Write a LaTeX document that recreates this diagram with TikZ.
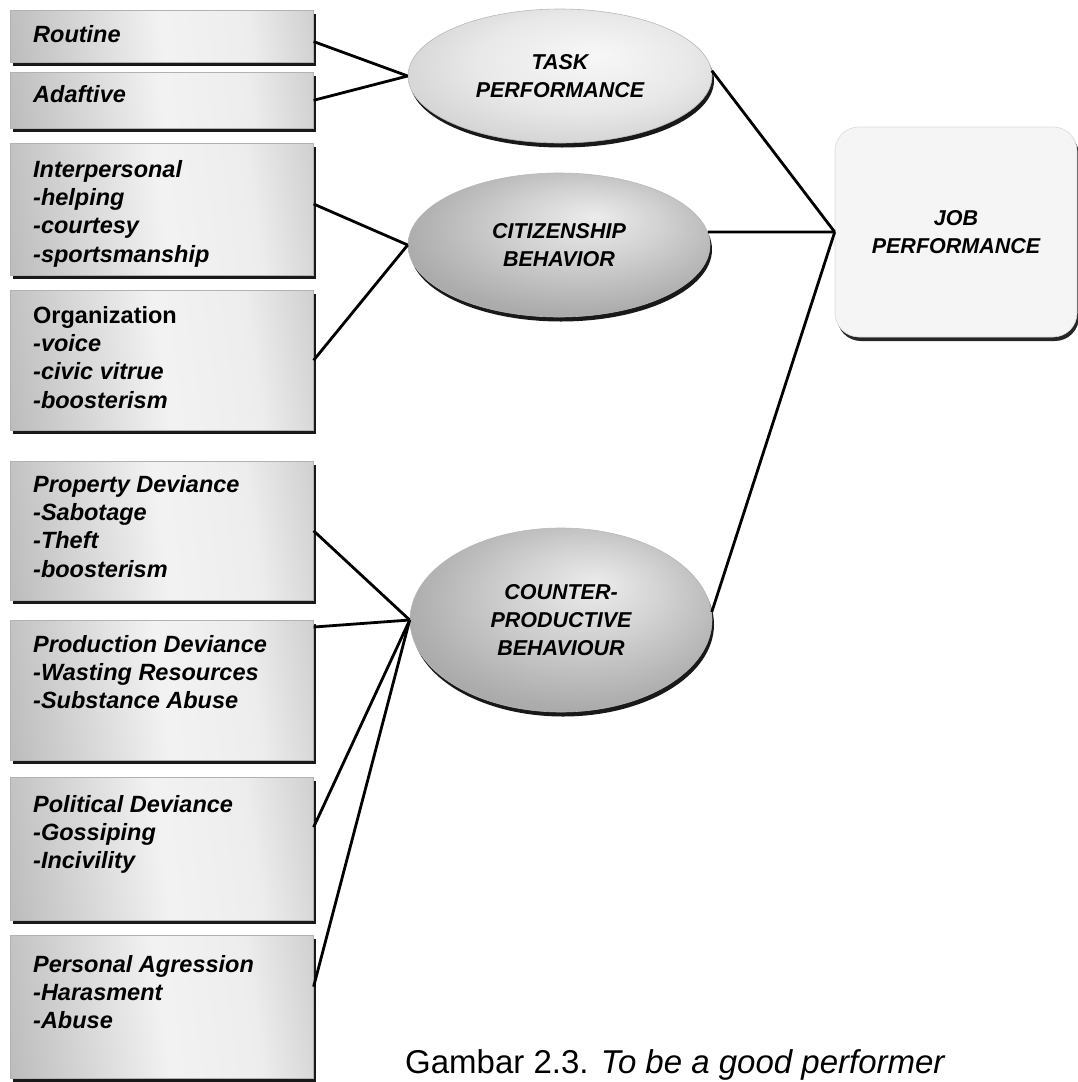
\documentclass[tikz,border=0pt]{standalone}
\usepackage{fontspec}
\setmainfont{Liberation Sans}
\usetikzlibrary{shapes.geometric,shadows,calc}

% metallic grey fills
\pgfdeclarehorizontalshading{boxshade}{100bp}{color(0bp)=(gray!82); color(20bp)=(gray!55); color(50bp)=(gray!10); color(66bp)=(gray!14); color(100bp)=(gray!78)}
\pgfdeclareradialshading{lightoval}{\pgfpoint{6bp}{8bp}}{color(0bp)=(gray!6); color(18bp)=(gray!18); color(34bp)=(gray!40); color(50bp)=(gray!70)}
\pgfdeclareradialshading{darkoval}{\pgfpoint{6bp}{10bp}}{color(0bp)=(gray!15); color(12bp)=(gray!35); color(28bp)=(gray!65); color(50bp)=(gray!88)}

\begin{document}
\begin{tikzpicture}[x=1pt,y=-1pt,
  itembox/.style={draw=gray!60, line width=0.6pt, shading=boxshade, shading angle=8,
    minimum width=303pt, inner sep=0pt, anchor=north west,
    drop shadow={shadow xshift=2.5pt, shadow yshift=-4pt, fill=black!90, opacity=1}},
  itemtext/.style={anchor=north west, align=left, inner sep=0pt,
    font=\fontsize{23.5}{28.3}\selectfont\bfseries\itshape},
  oval/.style={ellipse, draw=gray!55, line width=0.6pt, inner sep=0pt, align=center,
    font=\fontsize{21.5}{28}\selectfont\bfseries\itshape,
    drop shadow={shadow xshift=2pt, shadow yshift=-4.5pt, fill=black!90, opacity=1}},
  goalbox/.style={rectangle, rounded corners=24pt, draw=gray!30, line width=0.6pt, fill=gray!8,
    align=center, inner sep=0pt, font=\fontsize{21.5}{28}\selectfont\bfseries\itshape,
    drop shadow={shadow xshift=2pt, shadow yshift=-4pt, fill=black!85, opacity=1}},
  link/.style={line width=2.8pt, black}
]
\useasboundingbox (0,0) rectangle (1077,1082);

% left column: behaviour dimensions
\node[itembox, minimum height=52pt]  (b1) at (10,10)  {};
\node[itembox, minimum height=56pt]  (b2) at (10,72)  {};
\node[itembox, minimum height=132pt] (b3) at (10,143) {};
\node[itembox, minimum height=140pt] (b4) at (10,290) {};
\node[itembox, minimum height=139pt] (b5) at (10,461) {};
\node[itembox, minimum height=140pt] (b6) at (10,620) {};
\node[itembox, minimum height=143pt] (b7) at (10,777) {};
\node[itembox, minimum height=143pt] (b8) at (10,935) {};

\node[itemtext] (t1) at (33,25)  {Routine};
\node[itemtext] (t2) at (33,85)  {Adaftive};
\node[itemtext] (t3) at (33,160) {Interpersonal\\-helping\\-courtesy\\-sportsmanship};
\node[itemtext] (t4) at (33,306) {\upshape Organization\\-voice\\-civic vitrue\\-boosterism};
\node[itemtext] (t5) at (33,475) {Property Deviance\\-Sabotage\\-Theft\\-boosterism};
\node[itemtext] (t6) at (33,635) {Production Deviance\\-Wasting Resources\\-Substance Abuse};
\node[itemtext] (t7) at (33,795) {Political Deviance\\-Gossiping\\-Incivility};
\node[itemtext] (t8) at (33,955) {Personal Agression\\-Harasment\\-Abuse};

% middle column: performance components
\node[oval, shading=lightoval, minimum width=304pt, minimum height=134pt] (task) at (560,76)
  {TASK\\PERFORMANCE};
\node[oval, shading=darkoval, minimum width=302pt, minimum height=144pt] (cit) at (559,245)
  {CITIZENSHIP\\BEHAVIOR};
\node[oval, shading=darkoval, minimum width=302pt, minimum height=184pt] (cpb) at (561,620)
  {COUNTER-\\PRODUCTIVE\\BEHAVIOUR};

% right: overall outcome
\node[goalbox, minimum width=242pt, minimum height=210pt] (jp) at (956,232)
  {JOB\\PERFORMANCE};

% connectors
\draw[link] ($(b1.north east)!0.6!(b1.south east)$) -- (task.west);
\draw[link] (b2.east) -- (task.west);
\draw[link] ($(b3.north east)!0.46!(b3.south east)$) -- (cit.west);
\draw[link] (b4.east) -- (cit.west);
\draw[link] (b5.east) -- (cpb.west);
\draw[link] ($(b6.north east)!0.05!(b6.south east)$) -- (cpb.west);
\draw[link] ($(b7.north east)!0.35!(b7.south east)$) -- (cpb.west);
\draw[link] ($(b8.north east)!0.36!(b8.south east)$) -- (cpb.west);
\draw[link] (task.2) -- (jp.west);
\draw[link] (cit.5) -- (jp.west);
\draw[link] (cpb.3) -- (jp.west);

% caption
\node[anchor=base west, inner sep=0pt, font=\fontsize{33}{40}\selectfont] (cap) at (405,1073)
  {Gambar 2.3. \textit{To be a good performer}};
\end{tikzpicture}
\end{document}
